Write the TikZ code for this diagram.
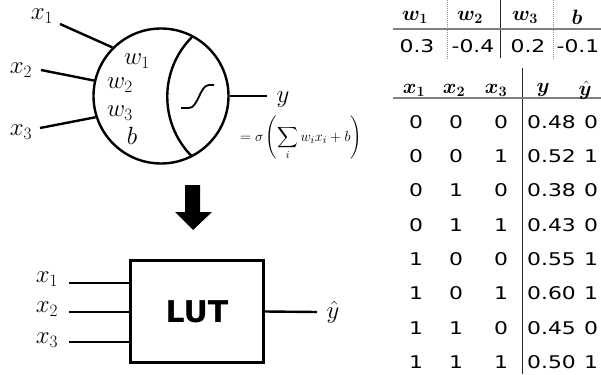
\documentclass[tikz,border=0pt]{standalone}
\usepackage{amsmath,bm}
\usepackage{fontspec}
\newfontfamily\tabf[FakeStretch=1.25]{DejaVu Sans}
\newfontfamily\lutf{DejaVu Sans}
\begin{document}
\begin{tikzpicture}[x=1pt,y=-1pt,
  wire/.style={line width=2.4pt},
  mlab/.style={font=\fontsize{23.5}{27}\selectfont, inner sep=0pt},
  tnum/.style={font=\tabf\fontsize{17.5}{20}\selectfont, inner sep=0pt},
  thead/.style={font=\fontsize{20}{24}\selectfont, inner sep=0pt},
  trule/.style={line width=1.2pt, black!50},
  tvd/.style={line width=1pt, black!45, densely dotted},
  tvs/.style={line width=1pt, black!85}]
\useasboundingbox (0,0) rectangle (601,374);

% neuron
\node[circle, draw, line width=2.4pt, minimum size=135pt, inner sep=0pt] (neuron) at (161,96) {};
\node[mlab] (x1) at (42,16) {$x_1$};
\node[mlab] (x2) at (21,70) {$x_2$};
\node[mlab] (x3) at (21,132) {$x_3$};
\coordinate (a1) at (60,24);
\coordinate (a2) at (41,70);
\coordinate (a3) at (40,128);
\draw[wire] (a1) -- (neuron.135);
\draw[wire] (a2) -- (neuron.167);
\draw[wire] (a3) -- (neuron.198);
\node[mlab] (w1) at (137,61) {$w_1$};
\node[mlab] (w2) at (120,85) {$w_2$};
\node[mlab] (w3) at (120,113) {$w_3$};
\node[mlab] (bb) at (132,136) {$b$};
\draw[wire] (192,37) arc[start angle=135, end angle=225, radius=84.5pt];
\draw[line width=1.8pt] (181,108) -- (189,108) .. controls (198,108) and (200,85) .. (209,85) -- (214,85);
\coordinate (yend) at (267,96);
\draw[wire] (neuron.east) -- (yend);
\node[mlab] (ylab) at (283,100) {$y$};
\node[font=\fontsize{15.5}{19}\selectfont, inner sep=0pt] (formula) at (301,138)
  {$=\sigma\left(\displaystyle\sum_i w_i x_i + b\right)$};

% block arrow
\fill (185,185) -- (200,185) -- (200,212) -- (212,212) -- (193,230) -- (175,212) -- (185,212) -- cycle;

% LUT
\node[draw, line width=2.4pt, minimum width=133pt, minimum height=102pt,
  font=\lutf\bfseries\fontsize{30}{36}\selectfont] (lut) at (197,311.5) {LUT};
\coordinate (i1) at (69,283);
\coordinate (i2) at (69,312);
\coordinate (i3) at (69,342);
\draw[wire] (i1) -- (i1 -| lut.west);
\draw[wire] (i2) -- (i2 -| lut.west);
\draw[wire] (i3) -- (i3 -| lut.west);
\node[mlab] (lx1) at (47,279) {$x_1$};
\node[mlab] (lx2) at (47,309) {$x_2$};
\node[mlab] (lx3) at (47,340) {$x_3$};
\coordinate (o) at (317,312);
\draw[wire] (lut.east) -- (o);
\node[mlab] (yhat) at (333,312) {$\hat{y}$};

% top table
\draw[tvd] (447,0) -- (447,60);
\draw[tvs] (500,0) -- (500,58);
\draw[tvd] (553,0) -- (553,60);
\draw[trule] (393,29) -- (601,29);
\node[thead] (hw1) at (415,17) {$\bm{w_1}$};
\node[thead] (hw2) at (470,17) {$\bm{w_2}$};
\node[thead] (hw3) at (525,17) {$\bm{w_3}$};
\node[thead] (hb) at (577,17) {$\bm{b}$};
\node[tnum] (vw1) at (417,46) {0.3};
\node[tnum] (vw2) at (473,46) {-0.4};
\node[tnum] (vw3) at (528,46) {0.2};
\node[tnum] (vb) at (578,46) {-0.1};

% truth table
\draw[tvs] (522,68) -- (522,374);
\draw[trule] (393,98) -- (601,98);
\node[thead] (hx1) at (414,90) {$\bm{x_1}$};
\node[thead] (hx2) at (454,90) {$\bm{x_2}$};
\node[thead] (hx3) at (496,90) {$\bm{x_3}$};
\node[thead] (hy) at (543,90) {$\bm{y}$};
\node[thead] (hyh) at (585,90) {$\bm{\hat{y}}$};
\foreach \a/\b/\c/\v/\h [count=\k] in
  {0/0/0/0.48/0, 0/0/1/0.52/1, 0/1/0/0.38/0, 0/1/1/0.43/0,
   1/0/0/0.55/1, 1/0/1/0.60/1, 1/1/0/0.45/0, 1/1/1/0.50/1} {
  \pgfmathsetmacro{\ry}{122+(\k-1)*34.3}
  \node[tnum] (r\k a) at (416,\ry) {\a};
  \node[tnum] (r\k b) at (456,\ry) {\b};
  \node[tnum] (r\k c) at (501,\ry) {\c};
  \node[tnum, anchor=west] (r\k v) at (527,\ry) {\v};
  \node[tnum] (r\k h) at (591,\ry) {\h};
}
\end{tikzpicture}
\end{document}
